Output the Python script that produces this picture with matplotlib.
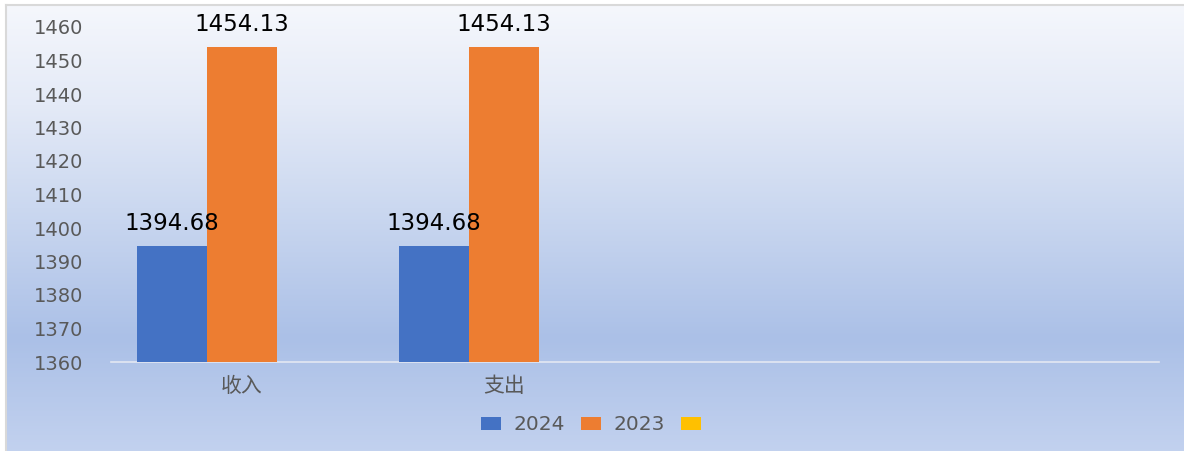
import numpy as np
import matplotlib
matplotlib.use("Agg")
import matplotlib.pyplot as plt
from matplotlib.colors import LinearSegmentedColormap
from matplotlib.patches import Patch

plt.rcParams['font.family'] = ['DejaVu Sans', 'Noto Sans CJK SC']

# Chart data
categories = ["收入", "支出", "", ""]
series_names = ["2024", "2023", ""]
values_2024 = [1394.68, 1394.68, np.nan, np.nan]
values_2023 = [1454.13, 1454.13, np.nan, np.nan]
values_third = [np.nan, np.nan, np.nan, np.nan]
y_ticks = [1360, 1370, 1380, 1390, 1400, 1410, 1420, 1430, 1440, 1450, 1460]

colors = ["#4472c4", "#ed7d31", "#ffc000"]

fig = plt.figure(figsize=(11.84, 4.51), dpi=100)
fig.patch.set_facecolor("white")

# gradient background panel (runs past the right/bottom edge)
bg = fig.add_axes([6 / 1184, -0.01, 1.01, 1.01 - 5 / 451])
bg_cmap = LinearSegmentedColormap.from_list(
    "bg", [(0.0, "#f5f7fc"), (0.22, "#e4eaf7"), (0.45, "#cbd8f0"),
           (0.74, "#abc0e7"), (1.0, "#c3d2ef")])
grad = np.linspace(0, 1, 256).reshape(-1, 1)
bg.imshow(grad, aspect="auto", cmap=bg_cmap, extent=[0, 1, 1, 0])
bg.set_xticks([])
bg.set_yticks([])
for side in ["right", "bottom"]:
    bg.spines[side].set_visible(False)
for side in ["top", "left"]:
    bg.spines[side].set_color("#d9d9d9")
    bg.spines[side].set_linewidth(1.5)

ax = fig.add_axes([111 / 1184, 89 / 451, 1048 / 1184, 335 / 451])
ax.patch.set_alpha(0)

x = np.arange(len(categories))
w = 0.267
all_series = [values_2024, values_2023, values_third]
for i, vals in enumerate(all_series):
    pos = x + (i - 1) * w
    ax.bar(pos, vals, width=w, color=colors[i], label=series_names[i],
           zorder=3)
    for p, v in zip(pos, vals):
        if not np.isnan(v):
            ax.text(p, v + 3.3, "{:.2f}".format(v), ha="center", va="bottom",
                    fontsize=16.5, color="black", zorder=4)

ax.set_xlim(-0.5, len(categories) - 0.5)
ax.set_ylim(1360, 1460)
ax.set_yticks(y_ticks)
ax.set_xticks(x)
ax.set_xticklabels(categories, fontsize=15, color="#595959",
                   family=['Noto Sans CJK SC', 'DejaVu Sans'])
ax.tick_params(axis="y", labelsize=14, labelcolor="#595959", length=0, pad=20)
ax.tick_params(axis="x", length=0, pad=9)
for side in ["top", "right", "left"]:
    ax.spines[side].set_visible(False)
ax.spines["bottom"].set_color("#e3e8f2")
ax.spines["bottom"].set_linewidth(1.2)

handles = [Patch(facecolor=c) for c in colors]
fig.legend(handles, series_names, loc="center", bbox_to_anchor=(597 / 1184, 1 - 425 / 451),
           ncol=3, frameon=False, fontsize=14.5, labelcolor="#595959",
           handlelength=1.0, handleheight=0.6, handletextpad=0.6, columnspacing=0.8)

fig.savefig("out.png", dpi=100)
